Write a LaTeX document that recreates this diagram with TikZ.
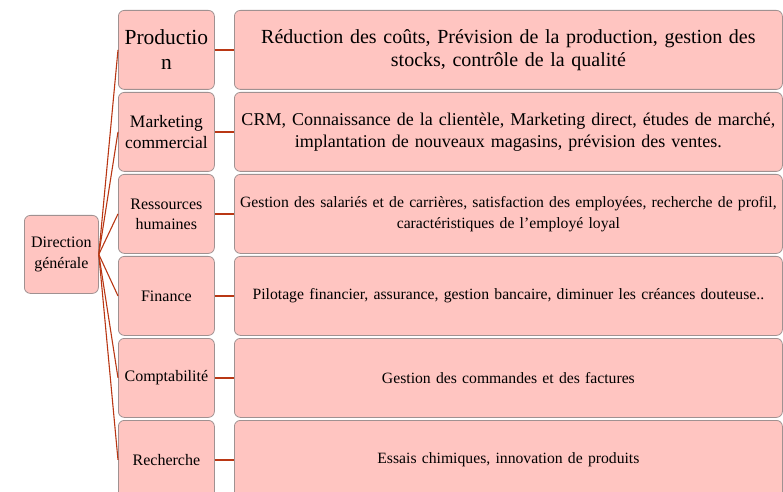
\documentclass[tikz,border=0pt]{standalone}
\usepackage{fontspec}
\setmainfont{Liberation Serif}
\definecolor{boxpink}{RGB}{255,197,193}
\definecolor{boxline}{RGB}{160,145,145}
\definecolor{linkred}{RGB}{185,55,20}
\begin{document}
\begin{tikzpicture}[x=1bp,y=-1bp,
  box/.style={draw=boxline,fill=boxpink,rounded corners=6bp,line width=0.8bp,
    align=center,inner sep=1bp,anchor=north west,minimum height=79bp},
  dept/.style={box,minimum width=96bp,text width=94bp},
  task/.style={box,minimum width=548bp,text width=546bp},
  link/.style={draw=linkred,line width=1.1bp}]
\useasboundingbox (0,0) rectangle (783,492);
\clip (0,0) rectangle (783,492);
\node[box,minimum width=74bp,text width=72bp,minimum height=78bp,font=\fontsize{16bp}{21bp}\selectfont] (dg) at (24,215) {Direction\\générale};
% departements
\node[dept,font=\fontsize{21.5bp}{25bp}\selectfont] (prod) at (118,10) {Productio\\n};
\node[dept,font=\fontsize{17.5bp}{21bp}\selectfont] (mark) at (118,92) {Marketing\\commercial};
\node[dept,font=\fontsize{16bp}{20bp}\selectfont] (rh) at (118,174) {Ressources\\humaines};
\node[dept,font=\fontsize{16bp}{20bp}\selectfont] (fin) at (118,256) {Finance};
\node[dept,font=\fontsize{16bp}{20bp}\selectfont] (compta) at (118,338) {Comptabilité};
\node[dept,font=\fontsize{16bp}{20bp}\selectfont] (rech) at (118,420) {Recherche};
% taches
\node[task,font=\fontsize{20bp}{23bp}\selectfont] (tprod) at (234,10) {Réduction des coûts, Prévision de la production, gestion des\\stocks, contrôle de la qualité};
\node[task,font=\fontsize{18bp}{22bp}\selectfont] (tmark) at (234,92) {CRM, Connaissance de la clientèle, Marketing direct, études de marché,\\implantation de nouveaux magasins, prévision des ventes.};
\node[task,font=\fontsize{15.7bp}{21bp}\selectfont] (trh) at (234,174) {Gestion des salariés et de carrières, satisfaction des employées, recherche de profil,\\caractéristiques de l’employé loyal};
\node[task,font=\fontsize{15.7bp}{19bp}\selectfont] (tfin) at (234,256) {Pilotage financier, assurance, gestion bancaire, diminuer les créances douteuse..};
\node[task,font=\fontsize{15.7bp}{19bp}\selectfont] (tcompta) at (234,338) {Gestion des commandes et des factures};
\node[task,font=\fontsize{15.7bp}{19bp}\selectfont] (trech) at (234,420) {Essais chimiques, innovation de produits};
% liens
\draw[link] (dg.east) -- (prod.west);
\draw[link] (dg.east) -- (mark.west);
\draw[link] (dg.east) -- (rh.west);
\draw[link] (dg.east) -- (fin.west);
\draw[link] (dg.east) -- (compta.west);
\draw[link] (dg.east) -- (rech.west);
\draw[link,line width=1.8bp] (prod) -- (tprod);
\draw[link,line width=1.8bp] (mark) -- (tmark);
\draw[link,line width=1.8bp] (rh) -- (trh);
\draw[link,line width=1.8bp] (fin) -- (tfin);
\draw[link,line width=1.8bp] (compta) -- (tcompta);
\draw[link,line width=1.8bp] (rech) -- (trech);
\end{tikzpicture}
\end{document}
